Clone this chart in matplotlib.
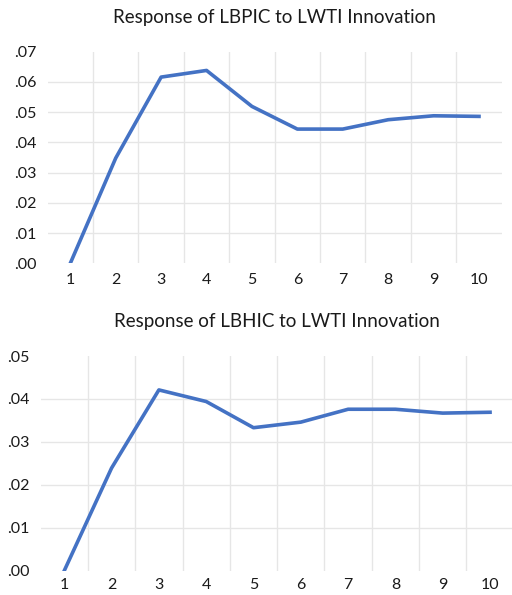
import matplotlib
matplotlib.use("Agg")
import matplotlib.pyplot as plt
from matplotlib.ticker import FuncFormatter

plt.rcParams['font.family'] = ['Lato', 'DejaVu Sans']

periods = [1, 2, 3, 4, 5, 6, 7, 8, 9, 10]
lbpic_resp = [0.0000, 0.0348, 0.0616, 0.0638, 0.0519, 0.0444, 0.0444, 0.0475, 0.0488, 0.0486]
lbhic_resp = [0.0000, 0.0239, 0.0421, 0.0394, 0.0333, 0.0346, 0.0376, 0.0376, 0.0367, 0.0369]
lbpic_yticks = [0.00, 0.01, 0.02, 0.03, 0.04, 0.05, 0.06, 0.07]
lbhic_yticks = [0.00, 0.01, 0.02, 0.03, 0.04, 0.05]
titles = ["Response of LBPIC to LWTI Innovation", "Response of LBHIC to LWTI Innovation"]

W, H = 512, 595
fig = plt.figure(figsize=(W / 100, H / 100), dpi=100)

LINE = "#4472C4"
GRID = "#E6E6E6"
TEXT = "#1a1a1a"


def px_axes(left, top, right, bottom):
    return fig.add_axes([left / W, 1 - bottom / H, (right - left) / W, (bottom - top) / H])


def dot_fmt(v, _):
    s = f"{v:.2f}"
    return s[1:] if s.startswith("0") else s


def draw(ax, y, yticks, title, title_xy, xpad):
    ax.set_xlim(0.5, 10.5)
    ax.set_ylim(yticks[0], yticks[-1])
    for t in yticks[1:-1]:
        ax.axhline(t, color=GRID, lw=1.0, zorder=1)
    for p in periods[:-1]:
        ax.axvline(p + 0.5, color=GRID, lw=1.0, zorder=1)
    ax.plot(periods, y, color=LINE, lw=2.6, zorder=3, solid_joinstyle='round')
    for s in ax.spines.values():
        s.set_visible(False)
    ax.set_xticks(periods)
    ax.set_yticks(yticks)
    ax.yaxis.set_major_formatter(FuncFormatter(dot_fmt))
    ax.tick_params(length=0, labelsize=11.5, colors=TEXT, pad=8)
    ax.tick_params(axis='x', pad=xpad)
    ax.patch.set_alpha(0)
    fig.text(title_xy[0] / W, 1 - title_xy[1] / H, title,
             ha='center', va='center', fontsize=13.5, color=TEXT)


ax1 = px_axes(47.6, 51.7, 501.7, 263.3)
draw(ax1, lbpic_resp, lbpic_yticks, titles[0], (274.5, 17), 7)

ax2 = px_axes(40.6, 356.0, 513.7, 570.7)
draw(ax2, lbhic_resp, lbhic_yticks, titles[1], (276.5, 321), 5)

fig.savefig("out.png", dpi=100, facecolor="white")
